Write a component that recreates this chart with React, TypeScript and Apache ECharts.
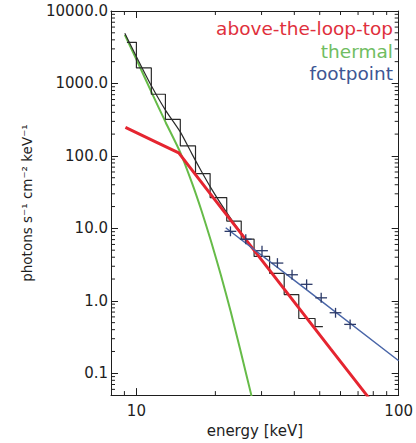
import React, { useEffect, useRef } from "react";
import * as echarts from "echarts";

// axis ranges
const xRange = [8, 100];
const yRange = [0.05, 10000];

// minor tick values
const xMinorTicks = [9, 20, 30, 40, 50, 60, 70, 80, 90];
const yMinorTicks = [
  0.06, 0.07, 0.08, 0.09,
  0.2, 0.3, 0.4, 0.5, 0.6, 0.7, 0.8, 0.9,
  2, 3, 4, 5, 6, 7, 8, 9,
  20, 30, 40, 50, 60, 70, 80, 90,
  200, 300, 400, 500, 600, 700, 800, 900,
  2000, 3000, 4000, 5000, 6000, 7000, 8000, 9000,
];

// data histogram (bin edges and counts)
const histEdges = [9.2, 10, 11.4, 12.9, 14.7, 16.8, 19.1, 22.1, 25.1, 28.1, 32.2, 36.6, 41.6, 48.0, 51.4];
const histValues = [3700, 1640, 710, 320, 138, 57, 26.6, 12.6, 7.1, 4.1, 2.4, 1.22, 0.57, 0.44];

// thermal component
const thermalE = [9.03, 10.17, 11.4, 12.92, 14.68, 16.26, 17.71, 19.28, 21.0, 22.87, 24.9, 27.35, 27.8];
const thermalV = [4690, 1880, 765, 292, 113, 43.1, 17.5, 6.55, 2.26, 0.716, 0.21, 0.052, 0.042];

// above-the-loop-top component
const atltE = [9.08, 12, 14.5, 20, 30, 40, 55, 75.5, 78];
const atltV = [247, 153, 110, 24.4, 3.67, 0.96, 0.217, 0.05, 0.0425];

// total model
const totalE = [9.03, 10.17, 11.4, 12.92, 14.68, 16.26, 17.71, 19.28, 21.0, 22.87, 24.9, 30, 40, 50];
const totalV = [4940, 2080, 930, 426, 216, 107.5, 60.8, 35.6, 21.8, 13.8, 9.0, 3.67, 0.96, 0.34];

// footpoint fit line
const footLineE = [21.9, 45, 100];
const footLineV = [10.2, 1.38, 0.149];

// footpoint data points with error bars
const footE = [22.83, 26.12, 30.12, 34.49, 39.21, 44.56, 50.64, 57.44, 65.28];
const footELo = [21.68, 24.81, 28.6, 32.75, 37.24, 42.32, 48.09, 54.55, 62.0];
const footEHi = [24.04, 27.5, 31.72, 36.32, 41.29, 46.92, 53.32, 60.48, 68.74];
const footV = [9.1, 7.07, 4.92, 3.32, 2.29, 1.69, 1.1, 0.685, 0.473];
const footVLo = [7.78, 6.04, 4.21, 2.84, 1.96, 1.44, 0.94, 0.585, 0.404];
const footVHi = [10.65, 8.27, 5.76, 3.88, 2.68, 1.98, 1.29, 0.8, 0.553];

const legendLabels = ["above-the-loop-top", "thermal", "footpoint"];
const legendColors = ["#e0303c", "#70bd62", "#3e5694"];

const FONT = "DejaVu Sans";
const INK = "#1e1e1e";

const isDecade = (v: number) => {
  const l = Math.log10(v);
  return Math.abs(l - Math.round(l)) < 1e-6;
};

export default function App() {
  const ref = useRef<HTMLDivElement>(null);
  useEffect(() => {
    if (!ref.current) return;
    const chart = echarts.init(ref.current, undefined, { renderer: "svg" });

    const zip = (a: number[], b: number[]) => a.map((v, i) => [v, b[i]]);
    const histData: number[][] = histValues.map((v, i) => [histEdges[i], v]);
    histData.push([histEdges[histEdges.length - 1], histValues[histValues.length - 1]]);

    const tickStyle = { stroke: INK, lineWidth: 1 };

    const baseX = {
      type: "log",
      min: xRange[0],
      max: xRange[1],
      logBase: 10,
      splitLine: { show: false },
      axisLine: { show: true, lineStyle: { color: INK, width: 1 } },
      axisTick: { show: true, inside: true, length: 7, lineStyle: { color: INK } },
    };
    const baseY = {
      type: "log",
      min: yRange[0],
      max: yRange[1],
      logBase: 10,
      splitLine: { show: false },
      axisLine: { show: true, lineStyle: { color: INK, width: 1 } },
      axisTick: { show: true, inside: true, length: 7, lineStyle: { color: INK } },
    };

    chart.setOption({
      animation: false,
      backgroundColor: "#ffffff",
      grid: { left: 111, top: 11, width: 297, height: 387, containLabel: false },
      xAxis: [
        {
          ...baseX,
          position: "bottom",
          name: "energy [keV]",
          nameLocation: "middle",
          nameGap: 24,
          nameTextStyle: { fontFamily: FONT, fontSize: 15, color: INK },
          axisLabel: {
            fontFamily: FONT,
            fontSize: 15,
            color: INK,
            margin: 8,
            formatter: (v: number) => (isDecade(v) ? String(Math.round(v)) : ""),
          },
        },
        { ...baseX, position: "top", axisLabel: { show: false } },
      ],
      yAxis: [
        {
          ...baseY,
          position: "left",
          name: "photons s⁻¹ cm⁻² keV⁻¹",
          nameLocation: "middle",
          nameGap: 77,
          nameRotate: 90,
          nameTextStyle: { fontFamily: FONT, fontSize: 13.5, color: INK },
          axisLabel: {
            fontFamily: FONT,
            fontSize: 15,
            color: INK,
            margin: 3,
            formatter: (v: number) => (isDecade(v) ? v.toFixed(1) : ""),
          },
        },
        { ...baseY, position: "right", axisLabel: { show: false } },
      ],
      graphic: legendLabels.map((t, i) => ({
        type: "text",
        x: 393,
        y: 28.5 + i * 22.5,
        z: 100,
        style: {
          text: t,
          fill: legendColors[i],
          font: `18.5px "${FONT}"`,
          fontFamily: FONT,
          fontSize: 18.5,
          align: "right",
          verticalAlign: "middle",
        },
      })),
      series: [
        {
          type: "line",
          name: "thermal",
          data: zip(thermalE, thermalV),
          showSymbol: false,
          smooth: 0.2,
          lineStyle: { color: "#66bb48", width: 2 },
          z: 2,
        },
        {
          type: "line",
          name: "total",
          data: zip(totalE, totalV),
          showSymbol: false,
          smooth: 0.2,
          lineStyle: { color: "#2a2a2a", width: 1.2 },
          z: 3,
        },
        {
          type: "line",
          name: "data",
          data: histData,
          step: "end",
          showSymbol: false,
          lineStyle: { color: "#2a2a2a", width: 1.2 },
          z: 3,
        },
        {
          type: "line",
          name: "above-the-loop-top",
          data: zip(atltE, atltV),
          showSymbol: false,
          lineStyle: { color: "#e52530", width: 3 },
          z: 4,
        },
        {
          type: "line",
          name: "footpoint",
          data: zip(footLineE, footLineV),
          showSymbol: false,
          lineStyle: { color: "#4a66a8", width: 1.5 },
          z: 4,
        },
        {
          type: "custom",
          name: "footpoint data",
          z: 5,
          data: footE.map((e, i) => [e, footV[i], footELo[i], footEHi[i], footVLo[i], footVHi[i]]),
          renderItem: (params: any, api: any) => {
            const e = api.value(0), v = api.value(1);
            const a = api.coord([api.value(2), v]);
            const b = api.coord([api.value(3), v]);
            const c = api.coord([e, api.value(4)]);
            const d = api.coord([e, api.value(5)]);
            const st = { stroke: "#2c3a68", lineWidth: 1.3 };
            return {
              type: "group",
              children: [
                { type: "line", shape: { x1: a[0], y1: a[1], x2: b[0], y2: b[1] }, style: st },
                { type: "line", shape: { x1: c[0], y1: c[1], x2: d[0], y2: d[1] }, style: st },
              ],
            };
          },
        },
        {
          type: "custom",
          name: "minor ticks",
          silent: true,
          clip: false,
          z: 6,
          data: [[10, 1]],
          renderItem: (params: any, api: any) => {
            const cs = params.coordSys;
            const children: any[] = [];
            const bottom = cs.y + cs.height;
            const right = cs.x + cs.width;
            xMinorTicks.forEach((v) => {
              const px = api.coord([v, 1])[0];
              children.push({ type: "line", shape: { x1: px, y1: bottom, x2: px, y2: bottom - 4 }, style: tickStyle });
              children.push({ type: "line", shape: { x1: px, y1: cs.y, x2: px, y2: cs.y + 4 }, style: tickStyle });
            });
            yMinorTicks.forEach((v) => {
              const py = api.coord([10, v])[1];
              children.push({ type: "line", shape: { x1: cs.x, y1: py, x2: cs.x + 4, y2: py }, style: tickStyle });
              children.push({ type: "line", shape: { x1: right, y1: py, x2: right - 4, y2: py }, style: tickStyle });
            });
            return { type: "group", children };
          },
        },
      ],
    });
    return () => chart.dispose();
  }, []);

  return (
    <div
      ref={ref}
      style={{ position: "fixed", left: 0, top: 0, width: 416, height: 443, background: "#fff" }}
    />
  );
}
